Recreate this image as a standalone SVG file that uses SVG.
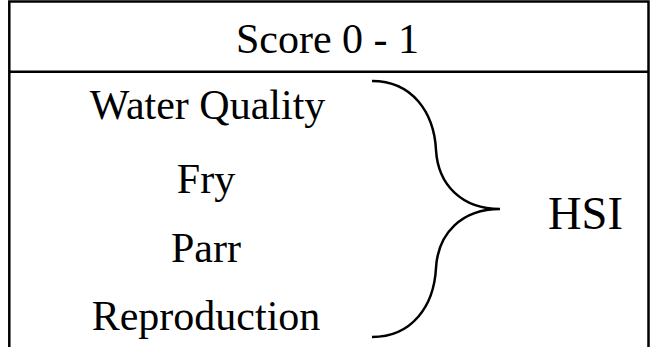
<svg xmlns="http://www.w3.org/2000/svg" width="653" height="347" viewBox="0 0 653 347">
<style>
.ln{fill:none;stroke:#000;stroke-width:2.5}
</style>
<rect width="653" height="347" fill="#fff"/>
<g id="frame">
<path class="ln" d="M9.3,347 V1.6 H648.5 V347"/>
<line class="ln" x1="9.3" y1="71.7" x2="648.5" y2="71.7"/>
</g>
<g font-family="Liberation Serif, Times New Roman, Times, serif" font-size="42" fill="#000" text-anchor="middle">
<g id="header"><text x="327.5" y="53">Score 0 - 1</text></g>
<g id="water"><text x="207.5" y="119">Water Quality</text></g>
<g id="fry"><text x="206" y="193">Fry</text></g>
<g id="parr"><text x="206" y="262">Parr</text></g>
<g id="repro"><text x="206" y="330">Reproduction</text></g>
<g id="hsi"><text x="585.5" y="229" font-size="46.5">HSI</text></g>
</g>
<g id="connectors">
<path class="ln" d="M372,81 C412,81 434,112 436,150 C438,185 462,209 500,209 C462,209 438,233 436,268 C434,306 412,337 372,337"/>
</g>
</svg>
